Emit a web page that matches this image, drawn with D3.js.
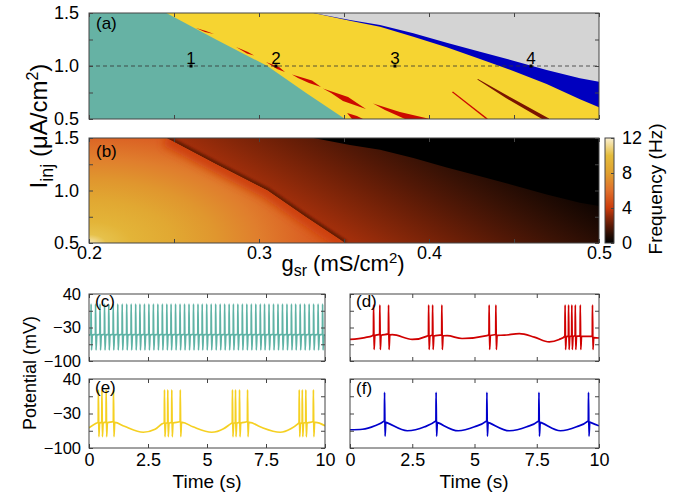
<!DOCTYPE html>
<html>
<head>
<meta charset="utf-8">
<script src="https://cdn.jsdelivr.net/npm/d3@7"></script>
<style>
  body { margin: 0; background: #fff; }
  svg { display: block; font-family: "Liberation Sans", Arial, sans-serif; }
</style>
</head>
<body>
<svg id="fig" width="688" height="493"></svg>
<script>
// ---- data ----
const gTicks = [0.2, 0.25, 0.3, 0.35, 0.4, 0.45, 0.5];
const gLabels = [0.2, 0.3, 0.4, 0.5];
const iTicks = [0.5, 0.75, 1.0, 1.25, 1.5];
const iLabels = [0.5, 1.0, 1.5];
const fTicks = [0, 4, 8, 12];
const tTicks = [0, 2.5, 5, 7.5, 10];
const vTicks = [-100, -65, -30, 5, 40];
const vLabels = [-100, -30, 40];

// region boundaries in (g_sr, I_inj)
const tealEdge = [[0.2455, 1.5], [0.2747, 1.25], [0.3049, 1.0], [0.3273, 0.75], [0.3506, 0.5]];
const grayEdge = [[0.332, 1.5], [0.3535, 1.434], [0.3712, 1.387], [0.3908, 1.309], [0.4104, 1.220],
                  [0.43, 1.135], [0.4496, 1.05], [0.4692, 0.962], [0.4888, 0.884], [0.5, 0.852]];
const blueEdge = [[0.332, 1.5], [0.3535, 1.428], [0.3712, 1.371], [0.3908, 1.277], [0.4104, 1.176],
                  [0.43, 1.066], [0.4496, 0.953], [0.4692, 0.830], [0.4888, 0.686], [0.5, 0.611]];

// red streaks inside the bursting region
const redStreaks = [
  [[0.2629, 1.358], [0.2688, 1.330], [0.2735, 1.302], [0.2682, 1.321]],
  [[0.2865, 1.179], [0.2935, 1.132], [0.2971, 1.099], [0.2929, 1.118]],
  [[0.3041, 1.038], [0.3118, 0.991], [0.3153, 0.943], [0.3106, 0.972]],
  [[0.3194, 0.920], [0.3312, 0.863], [0.3365, 0.802], [0.3294, 0.840], [0.3229, 0.887]],
  [[0.3376, 0.788], [0.3524, 0.708], [0.3629, 0.594], [0.3494, 0.670], [0.3424, 0.745]],
  [[0.3671, 0.646], [0.3829, 0.566], [0.4006, 0.5], [0.3859, 0.5], [0.3741, 0.585]],
  [[0.3518, 0.557], [0.3576, 0.528], [0.3612, 0.5], [0.3547, 0.5]],
  [[0.4141, 0.759], [0.4347, 0.502], [0.4335, 0.5], [0.4135, 0.752]]
];
const darkStreaks = [
  [[0.4288, 0.877], [0.4476, 0.708], [0.4706, 0.505], [0.4706, 0.5], [0.4665, 0.5], [0.4450, 0.700], [0.4284, 0.872]]
];

const markG = [0.26, 0.31, 0.38, 0.46];
const markNames = ['1', '2', '3', '4'];
const markI = 1.0;

// frequency colour map (Hz)
const cmapF = [0, 1, 2, 3, 4, 6, 8, 10, 12];
const cmapC = ['#000000', '#2a0e04', '#5c1a06', '#902a0a', '#cc3c0c', '#e0702c', '#e0a02e', '#e4bc3c', '#faf0d2'];

// panel (b): frequency along bottom edge of the tonic region, and across the bursting region
const tealRadG = [0.2, 0.21, 0.225, 0.25, 0.275, 0.3, 0.325, 0.35, 0.37];
const tealRadF = [11.6, 10.2, 9.4, 8.6, 7.6, 6.6, 5.5, 4.7, 4.3];
const burstGradStart = [0.3416, 0.646];
const burstGradEnd = [0.3926, 2.076];
const burstGradPos = [0, 0.15, 0.3, 0.45, 0.6, 0.75, 0.9, 1];
const burstGradF = [3.3, 2.8, 2.3, 1.8, 1.3, 0.8, 0.3, 0];

// voltage traces: spike times (s), slow baseline (t, mV), peak / trough (mV)
const cSpikes = [0.08, 0.27, 0.46, 0.65, 0.83, 1.02, 1.21, 1.40, 1.59, 1.78, 1.97, 2.15, 2.34, 2.53,
  2.72, 2.91, 3.10, 3.29, 3.47, 3.66, 3.85, 4.04, 4.23, 4.42, 4.61, 4.79, 4.98, 5.17, 5.36, 5.55,
  5.74, 5.93, 6.11, 6.30, 6.49, 6.68, 6.87, 7.06, 7.25, 7.43, 7.62, 7.81, 8.00, 8.19, 8.38, 8.57,
  8.75, 8.94, 9.13, 9.32, 9.51, 9.70, 9.89];
const cBase = [[0, -46], [10, -46]];
const dSpikes = [0.94, 1.19, 1.54, 3.15, 3.31, 3.68, 5.58, 5.85, 8.63, 8.77, 8.90, 9.04, 9.24, 9.73];
const dBase = [[0, -55], [0.6, -51], [0.9, -47], [1.7, -45], [2.5, -55], [3.1, -48], [3.9, -47], [4.5, -53],
  [5.5, -47], [6.2, -46], [6.8, -43], [7.4, -50], [8.0, -60], [8.4, -55], [8.62, -50], [9.2, -48], [9.8, -51], [10, -52]];
const eSpikes = [0.39, 0.54, 0.72, 1.03, 3.19, 3.33, 3.50, 3.86, 6.07, 6.20, 6.37, 6.71, 8.90, 9.03, 9.18, 9.50];
const eBase = [[0, -59], [0.3, -50], [1.1, -48], [1.5, -56], [2.3, -68], [2.8, -62], [3.1, -51], [3.95, -48],
  [4.4, -57], [5.2, -68], [5.7, -61], [6.0, -51], [6.8, -48], [7.25, -57], [8.1, -68], [8.55, -61],
  [8.85, -51], [9.6, -48], [10, -55]];
const fSpikes = [1.38, 3.45, 5.49, 7.58, 9.57];
const fBase = [[0, -63], [0.5, -62], [1.0, -55], [1.35, -46], [1.5, -49], [2.3, -65], [3.0, -57], [3.42, -46],
  [3.55, -49], [4.35, -65], [5.0, -57], [5.46, -46], [5.6, -49], [6.4, -65], [7.1, -57], [7.55, -46],
  [7.7, -49], [8.45, -65], [9.1, -57], [9.54, -46], [9.7, -49], [10, -55]];

// ---- drawing ----
const svg = d3.select('#fig');
const defs = svg.append('defs');
const cmap = d3.scaleLinear().domain(cmapF).range(cmapC).clamp(true);

const xg = d3.scaleLinear().domain([0.2, 0.5]).range([89, 599]);
const yA = d3.scaleLinear().domain([0.5, 1.5]).range([119, 13]);
const yB = d3.scaleLinear().domain([0.5, 1.5]).range([243, 138]);

const fmt1 = d3.format('.1f');

function frame(g, x, y, xt, yt, xl, yl, xfmt, yfmt, xpad, ypad, fsx, fsy) {
  const [x0, x1] = x.range();
  const [yb, yt0] = y.range();
  const bx = g.append('g').attr('transform', `translate(0,${yb})`)
    .call(d3.axisBottom(x).tickValues(xt).tickSize(-4).tickSizeOuter(0).tickPadding(xpad)
      .tickFormat(d => xl.includes(d) ? xfmt(d) : ''));
  g.append('g').attr('transform', `translate(0,${yt0})`)
    .call(d3.axisTop(x).tickValues(xt).tickSize(-4).tickSizeOuter(0).tickFormat(''));
  const ly = g.append('g').attr('transform', `translate(${x0},0)`)
    .call(d3.axisLeft(y).tickValues(yt).tickSize(-4).tickSizeOuter(0).tickPadding(ypad)
      .tickFormat(d => yl.includes(d) ? yfmt(d) : ''));
  g.append('g').attr('transform', `translate(${x1},0)`)
    .call(d3.axisRight(y).tickValues(yt).tickSize(-4).tickSizeOuter(0).tickFormat(''));
  g.selectAll('.domain').remove();
  g.selectAll('.tick line').attr('stroke', '#444');
  g.selectAll('.tick text').attr('font-family', 'Liberation Sans, Arial, sans-serif').attr('fill', '#000');
  bx.selectAll('.tick text').attr('font-size', fsx);
  ly.selectAll('.tick text').attr('font-size', fsy);
  g.append('rect').attr('x', x0).attr('y', yt0).attr('width', x1 - x0).attr('height', yb - yt0)
    .attr('fill', 'none').attr('stroke', '#444').attr('stroke-width', 1);
}

function poly(x, y) {
  return d3.line().x(d => x(d[0])).y(d => y(d[1])).curve(d3.curveLinearClosed);
}
const tealPoly = [[0.2, 0.5], [0.2, 1.5], ...tealEdge];
const belowGray = [...grayEdge, [0.5, 0.5], [0.2, 0.5], [0.2, 1.5]];
const belowBlue = [...blueEdge, [0.5, 0.5], [0.2, 0.5], [0.2, 1.5]];

// panel (a)
const gA = svg.append('g');
const pA = poly(xg, yA);
gA.append('rect').attr('x', 89).attr('y', 13).attr('width', 510).attr('height', 106).attr('fill', '#d4d4d4');
gA.append('path').attr('d', pA(belowGray)).attr('fill', '#0000bf');
gA.append('path').attr('d', pA(belowBlue)).attr('fill', '#f6d431');
gA.append('path').attr('d', pA(tealPoly)).attr('fill', '#66b2a4');
gA.selectAll('.red').data(redStreaks).join('path').attr('d', d => pA(d)).attr('fill', '#cc0a00');
gA.selectAll('.dark').data(darkStreaks).join('path').attr('d', d => pA(d)).attr('fill', '#7a1400');
gA.append('line').attr('x1', xg(0.2)).attr('x2', xg(0.5)).attr('y1', yA(markI)).attr('y2', yA(markI))
  .attr('stroke', '#333').attr('stroke-width', 0.8).attr('stroke-dasharray', '4,3');
gA.selectAll('.mk').data(markG).join('rect')
  .attr('x', d => xg(d) - 1.5).attr('y', yA(markI) - 1.5).attr('width', 3).attr('height', 3).attr('fill', '#000');
gA.selectAll('.mkl').data(markG).join('text')
  .attr('x', d => xg(d)).attr('y', yA(markI) - 2).attr('text-anchor', 'middle')
  .attr('font-size', 17).text((d, i) => markNames[i]);
frame(gA, xg, yA, gTicks, iTicks, [], iLabels, fmt1, fmt1, 4, 10, 18, 18);
gA.append('text').attr('x', 96).attr('y', 29).attr('font-size', 17).text('(a)');

// panel (b)
const gB = svg.append('g');
const pB = poly(xg, yB);
const cx = xg(0.2), cy = yB(0.5), R = xg(0.37) - xg(0.2);
const rg = defs.append('radialGradient').attr('id', 'tealGrad').attr('gradientUnits', 'userSpaceOnUse')
  .attr('cx', cx).attr('cy', cy).attr('r', R).attr('fx', cx).attr('fy', cy)
  .attr('gradientTransform', `translate(${cx},${cy}) scale(1,0.5) translate(${-cx},${-cy})`);
tealRadG.forEach((g, i) => rg.append('stop').attr('offset', (xg(g) - cx) / R).attr('stop-color', cmap(tealRadF[i])));
const lg = defs.append('linearGradient').attr('id', 'burstGrad').attr('gradientUnits', 'userSpaceOnUse')
  .attr('x1', xg(burstGradStart[0])).attr('y1', yB(burstGradStart[1]))
  .attr('x2', xg(burstGradEnd[0])).attr('y2', yB(burstGradEnd[1]));
burstGradPos.forEach((o, i) => lg.append('stop').attr('offset', o).attr('stop-color', cmap(burstGradF[i])));
defs.append('filter').attr('id', 'blur2').attr('x', '-20%').attr('y', '-20%').attr('width', '140%').attr('height', '140%')
  .append('feGaussianBlur').attr('stdDeviation', 1.3);
defs.append('filter').attr('id', 'blur4').attr('x', '-20%').attr('y', '-20%').attr('width', '140%').attr('height', '140%')
  .append('feGaussianBlur').attr('stdDeviation', 4);
defs.append('clipPath').attr('id', 'clipB').append('rect').attr('x', 89).attr('y', 138).attr('width', 510).attr('height', 105);
defs.append('clipPath').attr('id', 'clipTeal').append('path').attr('d', pB(tealPoly));

const edgeLine = d3.line().x(d => xg(d[0])).y(d => yB(d[1]));
const gBc = gB.append('g').attr('clip-path', 'url(#clipB)');
gBc.append('rect').attr('x', 89).attr('y', 138).attr('width', 510).attr('height', 105).attr('fill', '#000');
gBc.append('path').attr('d', pB(belowGray)).attr('fill', 'url(#burstGrad)');
gBc.append('path').attr('d', edgeLine(tealEdge)).attr('fill', 'none').attr('stroke-linejoin', 'round')
  .attr('stroke', cmap(1.9)).attr('stroke-width', 6).attr('opacity', 0.8).attr('filter', 'url(#blur2)');
gBc.append('path').attr('d', pB(tealPoly)).attr('fill', 'url(#tealGrad)');
gBc.append('g').attr('clip-path', 'url(#clipTeal)')
  .append('path').attr('d', edgeLine(tealEdge)).attr('fill', 'none')
  .attr('stroke', cmap(4.2)).attr('stroke-width', 16).attr('filter', 'url(#blur4)');
frame(gB, xg, yB, gTicks, iTicks, gLabels, iLabels, fmt1, fmt1, 3, 10, 18, 18);
gB.append('text').attr('x', 96).attr('y', 157).attr('font-size', 17).text('(b)');

// colour bar
const yC = d3.scaleLinear().domain([0, 12]).range([243, 138]);
const cg = defs.append('linearGradient').attr('id', 'cbar').attr('x1', 0).attr('y1', 1).attr('x2', 0).attr('y2', 0);
cmapF.forEach((f, i) => cg.append('stop').attr('offset', f / 12).attr('stop-color', cmapC[i]));
const gCb = svg.append('g');
gCb.append('rect').attr('x', 605).attr('y', 138).attr('width', 9).attr('height', 105).attr('fill', 'url(#cbar)');
gCb.append('g').attr('transform', 'translate(614,0)')
  .call(d3.axisRight(yC).tickValues(fTicks).tickSize(-3).tickSizeOuter(0).tickPadding(8));
gCb.selectAll('.domain').remove();
gCb.selectAll('.tick line').attr('stroke', '#444');
gCb.selectAll('.tick text').attr('font-size', 18).attr('font-family', 'Liberation Sans, Arial, sans-serif').attr('fill', '#000');
gCb.append('rect').attr('x', 605).attr('y', 138).attr('width', 9).attr('height', 105)
  .attr('fill', 'none').attr('stroke', '#444');
svg.append('text').attr('transform', 'translate(662,189) rotate(-90)').attr('text-anchor', 'middle')
  .attr('font-size', 19).text('Frequency (Hz)');

// axis titles for (a)/(b)
const ti = svg.append('text').attr('transform', 'translate(47,126) rotate(-90)').attr('text-anchor', 'middle')
  .attr('font-size', 24);
ti.append('tspan').text('I');
ti.append('tspan').attr('dy', 6).attr('font-size', 18).text('inj');
ti.append('tspan').attr('dy', -6).text(' (μA/cm');
ti.append('tspan').attr('dy', -9).attr('font-size', 16).text('2');
ti.append('tspan').attr('dy', 9).text(')');

const tg = svg.append('text').attr('x', 343).attr('y', 271).attr('text-anchor', 'middle').attr('font-size', 22);
tg.append('tspan').text('g');
tg.append('tspan').attr('dy', 5).attr('font-size', 16).text('sr');
tg.append('tspan').attr('dy', -5).text(' (mS/cm');
tg.append('tspan').attr('dy', -8).attr('font-size', 15).text('2');
tg.append('tspan').attr('dy', 8).text(')');

// voltage panels
function buildTrace(base, spikes, peak, trough) {
  const b = d3.scaleLinear().domain(base.map(d => d[0])).range(base.map(d => d[1]));
  const pts = base.filter(p => !spikes.some(s => p[0] > s - 0.02 && p[0] < s + 0.08));
  spikes.forEach(s => {
    pts.push([s, b(s) + 2], [s + 0.008, peak], [s + 0.028, trough], [s + 0.06, b(s + 0.06)]);
  });
  return pts.sort((a, c) => a[0] - c[0]);
}

const panels = [
  { lab: '(c)', x: [89, 325], y: [361, 294], base: cBase, sp: cSpikes, pk: 19, tr: -77, col: '#5fb3a5', yl: true, xl: false, lx: 95, ly: 307 },
  { lab: '(d)', x: [350, 599], y: [361, 294], base: dBase, sp: dSpikes, pk: 17, tr: -76, col: '#d00000', yl: false, xl: false, lx: 356, ly: 307 },
  { lab: '(e)', x: [89, 325], y: [448, 379], base: eBase, sp: eSpikes, pk: 18, tr: -77, col: '#f5d022', yl: true, xl: true, lx: 95, ly: 393 },
  { lab: '(f)', x: [350, 599], y: [448, 379], base: fBase, sp: fSpikes, pk: 13, tr: -76, col: '#0000cc', yl: false, xl: true, lx: 356, ly: 394 }
];

panels.forEach((p, k) => {
  const x = d3.scaleLinear().domain([0, 10]).range(p.x);
  const y = d3.scaleLinear().domain([-100, 40]).range(p.y);
  const g = svg.append('g');
  defs.append('clipPath').attr('id', 'clipV' + k).append('rect')
    .attr('x', p.x[0]).attr('y', p.y[1]).attr('width', p.x[1] - p.x[0]).attr('height', p.y[0] - p.y[1]);
  const line = d3.line().x(d => x(d[0])).y(d => y(d[1])).curve(d3.curveMonotoneX);
  g.append('path').attr('clip-path', `url(#clipV${k})`)
    .attr('d', line(buildTrace(p.base, p.sp, p.pk, p.tr)))
    .attr('fill', 'none').attr('stroke', p.col).attr('stroke-width', 1.7).attr('stroke-linejoin', 'round');
  frame(g, x, y, tTicks, vTicks, p.xl ? tTicks : [], p.yl ? vLabels : [], d3.format(''), d3.format(''), 5, 8, 18, 16.5);
  g.append('text').attr('x', p.lx).attr('y', p.ly).attr('font-size', 17).text(p.lab);
});

svg.append('text').attr('transform', 'translate(36,373) rotate(-90)').attr('text-anchor', 'middle')
  .attr('font-size', 18).text('Potential (mV)');
svg.append('text').attr('x', 207).attr('y', 488).attr('text-anchor', 'middle').attr('font-size', 19).text('Time (s)');
svg.append('text').attr('x', 474).attr('y', 488).attr('text-anchor', 'middle').attr('font-size', 19).text('Time (s)');
</script>
</body>
</html>
